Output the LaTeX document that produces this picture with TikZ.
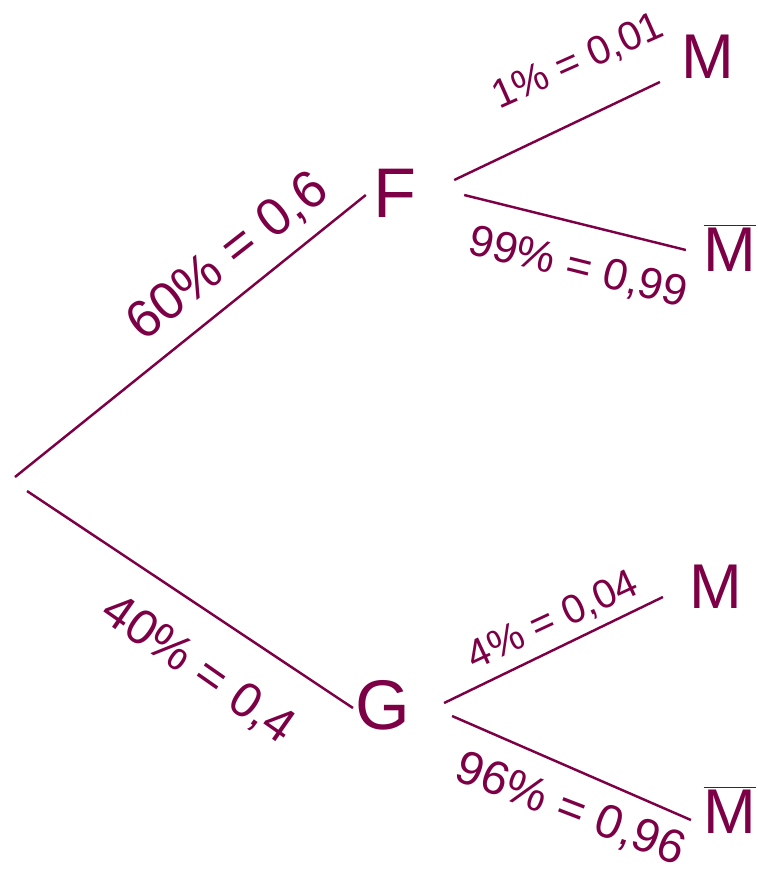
\documentclass[tikz,border=0pt]{standalone}
\usepackage{fontspec}
\setmainfont{Liberation Sans}
\definecolor{ink}{RGB}{125,0,70}
\begin{document}
\begin{tikzpicture}[x=0.02cm, y=-0.02cm, line width=1.4pt, color=ink,
    ev/.style={inner sep=2pt, font=\fontsize{#1}{#1}\selectfont},
    ev/.default=40,
    prob/.style={inner sep=0pt, font=\fontsize{#1}{#1}\selectfont}]
    \useasboundingbox (0,0) rectangle (757,888);
    % events
    \coordinate (O) at (20,485);
    \node[ev] (F) at (395,193) {F};
    \node[ev] (G) at (383,705) {G};
    \node[ev=36] (M1) at (708,57) {M};
    \node[ev=36] (N1) at (730,248) {$\overline{\hbox{M}}$};
    \node[ev=36] (M2) at (716,587) {M};
    \node[ev=36] (N2) at (730,810) {$\overline{\hbox{M}}$};
    % branches
    \draw ([shift={(-5,-8)}]O) -- ([shift={(-3,2)}]F.west);
    \draw ([shift={(7,6)}]O) -- ([shift={(2,3)}]G.west);
    \draw ([shift={(33,-13)}]F.east) -- ([shift={(-17,25)}]M1.west);
    \draw ([shift={(43,2)}]F.east) -- ([shift={(-13,2)}]N1.west);
    \draw ([shift={(29,-2)}]G.east) -- ([shift={(-22,10)}]M2.west);
    \draw ([shift={(37,11)}]G.east) -- ([shift={(-8,10)}]N2.west);
    % probabilities
    \node[prob=30, rotate=38] (pF) at (228,257) {60\% = 0,6};
    \node[prob=28, rotate=-35] (pG) at (198,670) {40\% = 0,4};
    \node[prob=23, rotate=24] (pFM) at (578,62) {1\% = 0,01};
    \node[prob=25, rotate=-14] (pFN) at (578,268) {99\% = 0,99};
    \node[prob=23, rotate=25] (pGM) at (553,621) {4\% = 0,04};
    \node[prob=27, rotate=-21] (pGN) at (570,810) {96\% = 0,96};
\end{tikzpicture}
\end{document}
